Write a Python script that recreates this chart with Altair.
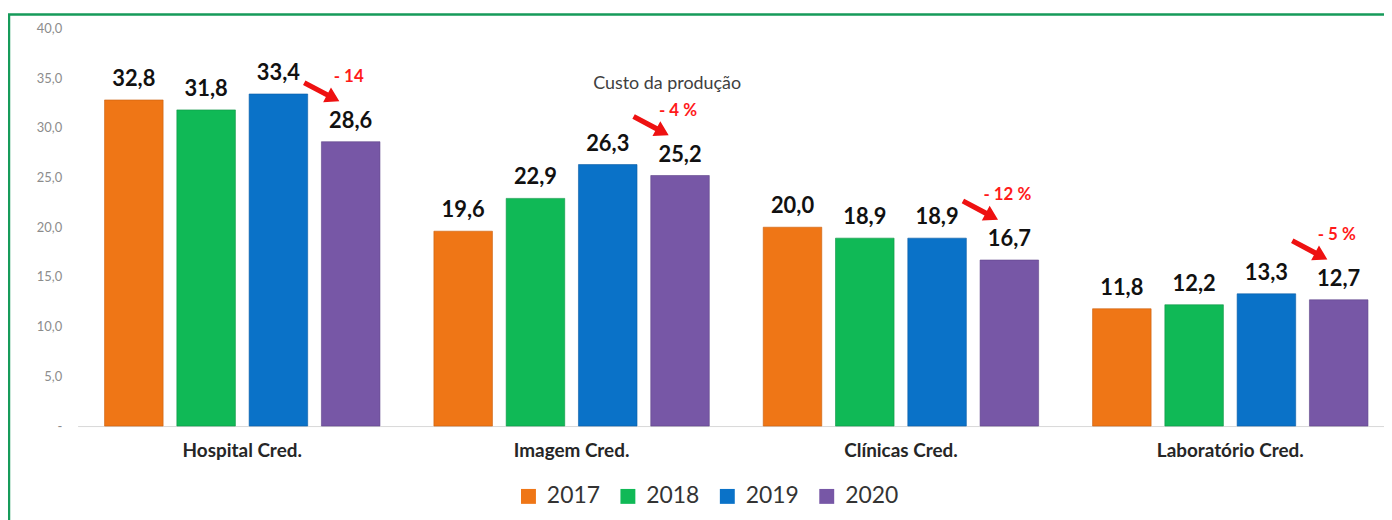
import altair as alt
import pandas as pd

categories = ["Hospital Cred.", "Imagem Cred.", "Clínicas Cred.", "Laboratório Cred."]
years = ["2017", "2018", "2019", "2020"]
values_2017 = [32.8, 19.6, 20.0, 11.8]
values_2018 = [31.8, 22.9, 18.9, 12.2]
values_2019 = [33.4, 26.3, 18.9, 13.3]
values_2020 = [28.6, 25.2, 16.7, 12.7]
change_labels = ["- 14", "- 4 %", "- 12 %", "- 5 %"]
y_ticks = [0, 5, 10, 15, 20, 25, 30, 35, 40]
colors = ["#EF7616", "#10B956", "#0A72C8", "#7757A6"]
edge_colors = ["#C95E0B", "#0C9544", "#085CA3", "#5E4389"]
title_text = "Custo da produção"

rows = []
for yr, vals in zip(years, [values_2017, values_2018, values_2019, values_2020]):
    for c, v in zip(categories, vals):
        rows.append({"category": c, "year": yr, "value": v})
df = pd.DataFrame(rows)
ann = pd.DataFrame({"category": categories, "year": ["2020"] * 4,
                    "value": values_2020, "change": change_labels})

W, H = 1312, 400
FONT = "Lato"

x = alt.X("category:N", sort=categories,
          scale=alt.Scale(paddingInner=0, paddingOuter=0, range=[0, 1325]),
          axis=alt.Axis(title=None, labelAngle=0, labelFont=FONT, labelFontWeight="bold",
                        labelFontSize=19, labelColor="#262626", labelPadding=16,
                        ticks=False, domainColor="#d9d9d9", domainWidth=1))
xo = alt.XOffset("year:N", sort=years,
                 scale=alt.Scale(paddingInner=0.19, paddingOuter=0.373))
y = alt.Y("value:Q", scale=alt.Scale(domain=[0, 40], nice=False),
          axis=alt.Axis(title=None, values=y_ticks, grid=False, ticks=False, domain=False,
                        labelExpr="datum.value == 0 ? '-' : replace(format(datum.value, '.1f'), '.', ',')",
                        labelColor="#8c8c8c", labelFontSize=13, labelFont=FONT, labelPadding=16))

color = alt.Color("year:N", sort=years, scale=alt.Scale(domain=years, range=colors),
                  legend=alt.Legend(title=None, orient="none", legendX=442, legendY=459,
                                    direction="horizontal", symbolType="square",
                                    symbolSize=225, symbolStrokeWidth=0,
                                    labelFont=FONT, labelFontSize=23, labelColor="#333333",
                                    labelOffset=7, columnPadding=16, padding=0))
stroke = alt.Stroke("year:N", sort=years, scale=alt.Scale(domain=years, range=edge_colors),
                    legend=None)

ARROW = "M -1 -0.13 L 0.3 -0.13 L 0.3 -0.42 L 1 0 L 0.3 0.42 L 0.3 0.13 L -1 0.13 Z"

frame = alt.Chart(pd.DataFrame({"k": [0]})).mark_rect(
    filled=False, stroke="#169B5A", strokeWidth=2.5
).encode(x=alt.value(-69), x2=alt.value(W + 200), y=alt.value(-14), y2=alt.value(H + 300))

bars = alt.Chart(df).mark_bar(strokeWidth=1, strokeOpacity=0.6).encode(
    x=x, xOffset=xo, y=y, color=color, stroke=stroke)

labels = alt.Chart(df).transform_calculate(
    lbl="replace(format(datum.value, '.1f'), '.', ',')"
).mark_text(font=FONT, fontWeight="bold", fontSize=22, color="#111111",
            baseline="alphabetic", dy=-14).encode(x=x, xOffset=xo, y=y, text="lbl:N")

ann_text = alt.Chart(ann).mark_text(
    font=FONT, fontWeight="bold", fontSize=17, color="#FF1A1A",
    baseline="alphabetic", dy=-60, dx=-2
).encode(x=x, xOffset=xo, y=y, text="change:N")

arrows = alt.Chart(ann).mark_point(
    shape=ARROW, size=1600, angle=28, filled=True, color="#EE1111", opacity=1,
    xOffset=80, yOffset=-50
).encode(x=x, y=y)

chart = alt.layer(frame, bars, labels, ann_text, arrows).properties(
    width=W, height=H,
    background="white",
    padding={"left": 70, "top": 19, "right": 2, "bottom": 93},
    autosize=alt.AutoSizeParams(type="none"),
    title=alt.TitleParams(title_text, font=FONT, fontSize=18, fontWeight="normal",
                          color="#404040", anchor="middle", frame="group",
                          dx=-63, dy=94, offset=0, baseline="alphabetic")
).configure_view(strokeWidth=0, stroke="transparent")

chart.save("out.html", embed_options={"renderer": "svg", "actions": False})
